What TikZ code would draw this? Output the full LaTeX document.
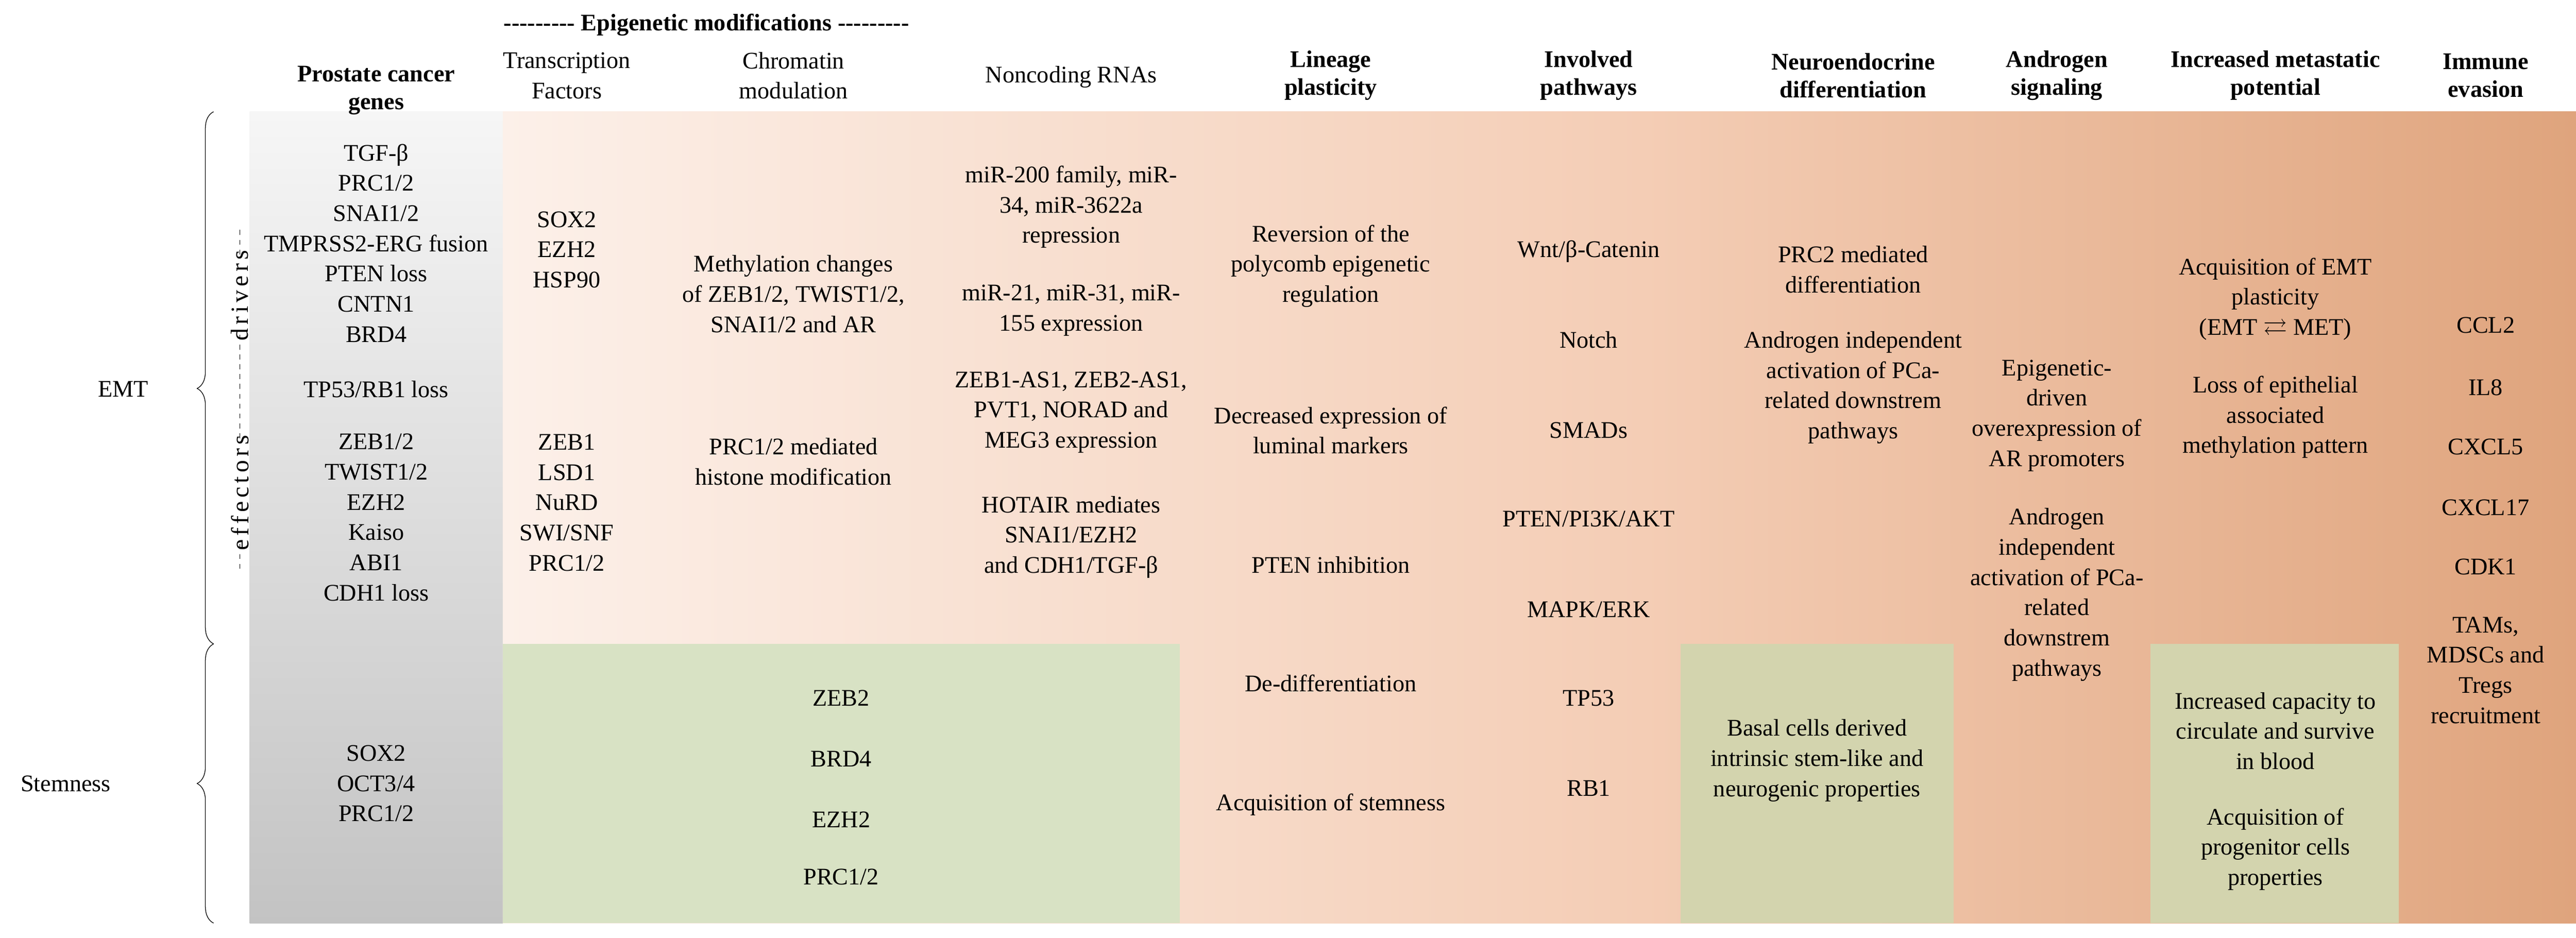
\documentclass[tikz,border=0pt]{standalone}
\usepackage{amssymb}
\usepackage{fontspec}
\setmainfont{Liberation Serif}
\usetikzlibrary{decorations.pathreplacing}
\definecolor{greenA}{HTML}{D8E2C4}
\definecolor{greenB}{HTML}{D3D4AE}
\definecolor{peachL}{HTML}{FCF0E9}
\definecolor{peachM}{HTML}{F4CDB5}
\definecolor{peachR}{HTML}{DFA47D}
\newcommand{\dashrun}{-{}-{}-{}-{}-{}-{}-{}-{}-}
\begin{document}
\begin{tikzpicture}[x=1pt,y=-1pt,
  txt/.style={align=center,inner sep=0pt,font=\fontsize{14.5}{18.4}\selectfont},
  hdr/.style={txt,font=\fontsize{14.5}{17}\selectfont\bfseries}]
\useasboundingbox (0,0) rectangle (1568,571);
\fill[white] (0,0) rectangle (1568,571);
% backgrounds
\shade[top color=gray!7,bottom color=gray!47] (152,68) rectangle (306,562);
\shade[left color=peachL,right color=peachM] (306,68) rectangle (1000,562);
\shade[left color=peachM,right color=peachR] (1000,68) rectangle (1568,562);
\fill[greenA] (306,392) rectangle (718,562);
\fill[greenB] (1023,392) rectangle (1189,562);
\fill[greenB] (1309,392) rectangle (1460,562);
% headers
\node[hdr] (hepi) at (430,15) {\dashrun\ Epigenetic modifications \dashrun};
\node[hdr] (hgen) at (229,55) {Prostate cancer\\genes};
\node[txt] (htf) at (345,46) {Transcription\\Factors};
\node[txt] (hchr) at (483,46) {Chromatin\\modulation};
\node[txt] (hnc) at (652,47) {Noncoding RNAs};
\node[hdr] (hlin) at (810,46) {Lineage\\plasticity};
\node[hdr] (hpath) at (967,46) {Involved\\pathways};
\node[hdr] (hne) at (1128,46) {Neuroendocrine\\differentiation};
\node[hdr] (hand) at (1252,46) {Androgen\\signaling};
\node[hdr] (hmet) at (1385,46) {Increased metastatic\\potential};
\node[hdr] (himm) at (1513,46) {Immune\\evasion};
% gene column
\node[txt] (g1) at (229,148) {TGF-β\\PRC1/2\\SNAI1/2\\TMPRSS2-ERG fusion\\PTEN loss\\CNTN1\\BRD4};
\node[txt] (g2) at (229,237) {TP53/RB1 loss};
\node[txt] (g3) at (229,315) {ZEB1/2\\TWIST1/2\\EZH2\\Kaiso\\ABI1\\CDH1 loss};
\node[txt] (g4) at (229,477) {SOX2\\OCT3/4\\PRC1/2};
% TF
\node[txt] (t1) at (345,152) {SOX2\\EZH2\\HSP90};
\node[txt] (t2) at (345,306) {ZEB1\\LSD1\\NuRD\\SWI/SNF\\PRC1/2};
% chromatin
\node[txt] (c1) at (483,179) {Methylation changes\\of ZEB1/2, TWIST1/2,\\SNAI1/2 and AR};
\node[txt] (c2) at (483,281) {PRC1/2 mediated\\histone modification};
% ncRNA
\node[txt] (n1) at (652,126) {miR-200 family, miR-\\34, miR-3622a\\repression};
\node[txt] (n2) at (652,189) {miR-21, miR-31, miR-\\155 expression};
\node[txt] (n3) at (652,251) {ZEB1-AS1, ZEB2-AS1,\\PVT1, NORAD and\\MEG3 expression};
\node[txt] (n4) at (652,327) {HOTAIR mediates\\SNAI1/EZH2\\and CDH1/TGF-β};
% green stemness epigenetic
\node[txt] (s1) at (512,425) {ZEB2};
\node[txt] (s2) at (512,462) {BRD4};
\node[txt] (s3) at (512,499) {EZH2};
\node[txt] (s4) at (512,534) {PRC1/2};
% lineage
\node[txt] (l1) at (810,162) {Reversion of the\\polycomb epigenetic\\regulation};
\node[txt] (l2) at (810,262) {Decreased expression of\\luminal markers};
\node[txt] (l3) at (810,344) {PTEN inhibition};
\node[txt] (l4) at (810,416) {De-differentiation};
\node[txt] (l5) at (810,490) {Acquisition of stemness};
% pathways
\node[txt] (p1) at (967,153) {Wnt/β-Catenin};
\node[txt] (p2) at (967,207) {Notch};
\node[txt] (p3) at (967,262) {SMADs};
\node[txt] (p4) at (967,316) {PTEN/PI3K/AKT};
\node[txt] (p5) at (967,371) {MAPK/ERK};
\node[txt] (p6) at (967,425) {TP53};
\node[txt] (p7) at (967,480) {RB1};
% NE
\node[txt] (e1) at (1128,164) {PRC2 mediated\\differentiation};
\node[txt] (e2) at (1128,236) {Androgen independent\\activation of PCa-\\related downstrem\\pathways};
\node[txt] (e3) at (1106,463) {Basal cells derived\\intrinsic stem-like and\\neurogenic properties};
% androgen
\node[txt] (a1) at (1252,253) {Epigenetic-\\driven\\overexpression of\\AR promoters};
\node[txt] (a2) at (1252,362) {Androgen\\independent\\activation of PCa-\\related\\downstrem\\pathways};
% metastatic
\node[txt] (m1) at (1385,182) {Acquisition of EMT\\plasticity\\(EMT $\rightleftarrows$ MET)};
\node[txt] (m2) at (1385,254) {Loss of epithelial\\associated\\methylation pattern};
\node[txt] (m3) at (1385,445) {Increased capacity to\\circulate and survive\\in blood};
\node[txt] (m4) at (1385,517) {Acquisition of\\progenitor cells\\properties};
% immune
\node[txt] (i1) at (1513,198) {CCL2};
\node[txt] (i2) at (1513,236) {IL8};
\node[txt] (i3) at (1513,272) {CXCL5};
\node[txt] (i4) at (1513,309) {CXCL17};
\node[txt] (i5) at (1513,345) {CDK1};
\node[txt] (i6) at (1513,408) {TAMs,\\MDSCs and\\Tregs\\recruitment};
% side labels
\node[txt] (emt) at (75,237) {EMT};
\node[txt] (stem) at (40,477) {Stemness};
\coordinate (b1) at (130,392);
\coordinate (b2) at (130,68);
\coordinate (b3) at (130,562);
\draw[decorate,decoration={brace,amplitude=10pt,aspect=0.48}] (b1) -- (b2);
\draw[decorate,decoration={brace,amplitude=10pt,aspect=0.5}] (b3) -- (b1);
\node[txt,rotate=90,font=\fontsize{15}{16}\selectfont\addfontfeatures{LetterSpace=15}] (drv) at (146,180) {drivers};
\node[txt,rotate=90,font=\fontsize{15}{16}\selectfont\addfontfeatures{LetterSpace=15}] (eff) at (146,300) {effectors};
\coordinate (d1) at (146,140);
\coordinate (d2) at (146,348);
\draw[dashed] (d1) -- ([yshift=-4pt]drv.east);
\draw[dashed] ([yshift=4pt]drv.west) -- ([yshift=-4pt]eff.east);
\draw[dashed] ([yshift=4pt]eff.west) -- (d2);
\end{tikzpicture}
\end{document}
